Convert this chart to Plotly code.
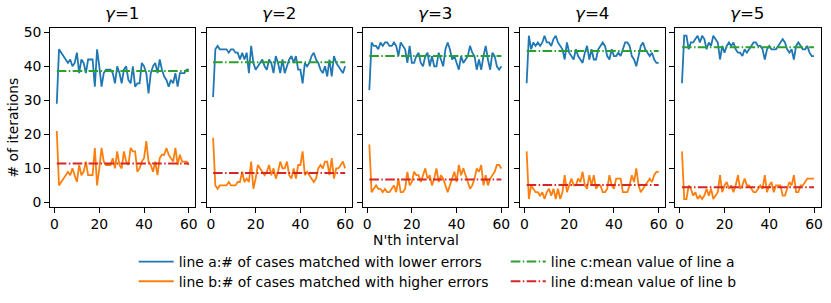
import numpy as np
import plotly.graph_objects as go

# ---------------- data ----------------
intervals = list(range(1, 61))
gammas = [1, 2, 3, 4, 5]

a1 = [29, 45, 44, 43, 42, 41, 42, 40, 41, 44,
      38, 42, 41, 38, 42, 42, 42, 34, 45, 40,
      34, 38, 39, 39, 39, 38, 35, 40, 38, 35,
      39, 40, 36, 35, 40, 34, 35, 35, 41, 40,
      38, 32, 38, 40, 41, 38, 42, 39, 37, 36,
      34, 36, 35, 38, 34, 38, 38, 38, 39, 39]
b1 = [21, 5, 6, 7, 8, 9, 8, 10, 8, 6,
      11, 8, 9, 12, 8, 8, 8, 16, 5, 10,
      16, 12, 11, 11, 11, 13, 10, 15, 11, 10,
      15, 12, 11, 16, 15, 15, 9, 10, 12, 13,
      18, 12, 11, 9, 12, 8, 13, 14, 14, 16,
      14, 13, 12, 16, 11, 14, 12, 12, 12, 11]

a2 = [31, 45, 46, 45, 45, 45, 45, 44, 45, 45,
      44, 44, 42, 44, 42, 44, 38, 46, 41, 39,
      40, 41, 42, 40, 39, 42, 41, 38, 43, 41,
      38, 42, 38, 40, 42, 43, 41, 43, 39, 39,
      35, 41, 40, 41, 43, 44, 42, 41, 39, 38,
      40, 37, 42, 37, 43, 41, 40, 39, 38, 40]
b2 = [19, 5, 4, 5, 5, 5, 5, 6, 5, 5,
      5, 6, 6, 9, 6, 7, 6, 12, 4, 7,
      11, 10, 9, 8, 9, 11, 8, 10, 7, 9,
      12, 10, 10, 12, 8, 7, 10, 7, 11, 11,
      15, 8, 9, 8, 7, 6, 7, 10, 11, 10,
      12, 12, 8, 13, 7, 10, 10, 11, 12, 10]

a3 = [33, 47, 46, 46, 45, 47, 46, 47, 47, 46,
      46, 47, 46, 43, 47, 46, 45, 41, 46, 41,
      41, 43, 44, 41, 40, 43, 44, 40, 43, 40,
      40, 44, 42, 40, 45, 47, 45, 42, 43, 41,
      39, 43, 41, 42, 43, 46, 44, 43, 39, 42,
      39, 43, 46, 42, 39, 44, 43, 40, 39, 40]
b3 = [17, 3, 4, 5, 4, 4, 3, 4, 3, 3,
      4, 5, 3, 7, 3, 3, 4, 9, 5, 6,
      9, 8, 8, 6, 8, 10, 7, 8, 5, 7,
      10, 6, 8, 7, 5, 3, 5, 7, 9, 6,
      11, 8, 10, 8, 6, 4, 5, 7, 10, 9,
      11, 5, 8, 5, 7, 8, 9, 11, 11, 10]

a4 = [35, 49, 45, 47, 46, 47, 46, 47, 49, 47,
      47, 46, 48, 49, 47, 46, 45, 42, 47, 44,
      43, 42, 45, 43, 42, 41, 44, 46, 42, 45,
      42, 42, 45, 46, 47, 46, 43, 42, 45, 43,
      43, 44, 43, 45, 47, 47, 46, 43, 42, 40,
      43, 46, 47, 45, 44, 43, 44, 42, 41, 41]
b4 = [15, 1, 5, 4, 3, 3, 2, 3, 1, 3,
      4, 2, 4, 1, 4, 1, 3, 8, 3, 5,
      7, 5, 5, 7, 6, 9, 5, 4, 8, 5,
      8, 4, 5, 5, 3, 3, 4, 8, 5, 4,
      7, 7, 7, 3, 3, 3, 5, 8, 6, 10,
      5, 3, 4, 5, 6, 7, 6, 8, 9, 9]

a5 = [35, 49, 49, 45, 47, 47, 48, 49, 47, 49,
      48, 45, 47, 46, 49, 48, 47, 42, 46, 44,
      46, 47, 46, 47, 45, 44, 44, 43, 45, 44,
      45, 46, 47, 47, 46, 46, 45, 42, 45, 46,
      45, 45, 45, 46, 47, 48, 47, 45, 44, 45,
      42, 46, 47, 46, 45, 45, 46, 44, 43, 43]
b5 = [15, 1, 1, 5, 4, 2, 3, 1, 2, 1,
      2, 4, 2, 4, 1, 2, 3, 8, 3, 5,
      6, 4, 5, 3, 5, 8, 4, 5, 7, 5,
      5, 4, 3, 3, 4, 5, 4, 8, 3, 5,
      6, 3, 5, 5, 5, 2, 2, 4, 6, 5,
      8, 3, 3, 5, 5, 6, 7, 7, 7, 7]

lines_a = [a1, a2, a3, a4, a5]
lines_b = [b1, b2, b3, b4, b5]

x_ticks = [0, 20, 40, 60]
y_ticks = [0, 10, 20, 30, 40, 50]

# ---------------- layout helpers ----------------
W, H = 831, 303
lefts = [50.3, 207.0, 363.6, 521.3, 677.0]
pw = 145.6
top_px, bot_px = 25.0, 208.3
FONT = "DejaVu Sans"
fs = 13.9

C_A, C_B, C_C, C_D = "#1f77b4", "#ff7f0e", "#2ca02c", "#d62728"
DASHDOT = "9.6px,2.4px,1.5px,2.4px"

fig = go.Figure()
layout = dict(
    width=W, height=H, autosize=False,
    margin=dict(l=0, r=0, t=0, b=0),
    paper_bgcolor="white", plot_bgcolor="white",
    font=dict(family=FONT, size=fs, color="black"),
    showlegend=True,
)

annotations = []
for i, (g, a, b) in enumerate(zip(gammas, lines_a, lines_b)):
    n = i + 1
    xa = "x" if n == 1 else f"x{n}"
    ya = "y" if n == 1 else f"y{n}"
    ma = float(np.mean(a))
    mb = float(np.mean(b))
    first = (n == 1)
    fig.add_trace(go.Scatter(x=intervals, y=a, mode="lines",
                             line=dict(color=C_A, width=1.8),
                             name="line a:# of cases matched with lower errors",
                             showlegend=first, legend="legend",
                             xaxis=xa, yaxis=ya))
    fig.add_trace(go.Scatter(x=intervals, y=b, mode="lines",
                             line=dict(color=C_B, width=1.8),
                             name="line b:# of cases matched with higher errors",
                             showlegend=first, legend="legend3",
                             xaxis=xa, yaxis=ya))
    fig.add_trace(go.Scatter(x=[intervals[0], intervals[-1]], y=[ma, ma], mode="lines",
                             line=dict(color=C_C, width=2, dash=DASHDOT),
                             name="line c:mean value of line a",
                             showlegend=first, legend="legend2",
                             xaxis=xa, yaxis=ya))
    fig.add_trace(go.Scatter(x=[intervals[0], intervals[-1]], y=[mb, mb], mode="lines",
                             line=dict(color=C_D, width=2, dash=DASHDOT),
                             name="line d:mean value of line b",
                             showlegend=first, legend="legend4",
                             xaxis=xa, yaxis=ya))

    l = lefts[i]
    layout[f"xaxis{n}"] = dict(
        domain=[l / W, (l + pw) / W], range=[-1.95, 62.95], anchor=ya,
        tickvals=x_ticks, ticks="outside", ticklen=5, tickwidth=1, tickcolor="black",
        ticklabelstandoff=-1,
        showline=True, mirror=True, linecolor="black", linewidth=1,
        showgrid=False, zeroline=False, tickfont=dict(family=FONT, size=fs, color="black"),
    )
    layout[f"yaxis{n}"] = dict(
        domain=[1 - bot_px / H, 1 - top_px / H], range=[-1.4, 51.4], anchor=xa,
        tickvals=y_ticks, ticks="outside", ticklen=5, tickwidth=1, tickcolor="black",
        showticklabels=first,
        showline=True, mirror=True, linecolor="black", linewidth=1,
        showgrid=False, zeroline=False, tickfont=dict(family=FONT, size=fs, color="black"),
    )
    annotations.append(dict(
        text=f"<i>γ</i>={g}", x=(l + pw / 2) / W, y=1 - top_px / H,
        xref="paper", yref="paper", xanchor="center", yanchor="bottom",
        yshift=3, showarrow=False, font=dict(family=FONT, size=16.7, color="black"),
    ))

annotations.append(dict(
    text="N'th interval", x=417 / W, y=1 - 242 / H, xref="paper", yref="paper",
    xanchor="center", yanchor="middle", showarrow=False,
    font=dict(family=FONT, size=fs, color="black"),
))
annotations.append(dict(
    text="# of iterations", x=14 / W, y=1 - 127 / H, xref="paper", yref="paper",
    xanchor="center", yanchor="middle", textangle=-90, showarrow=False,
    font=dict(family=FONT, size=fs, color="black"),
))
layout["annotations"] = annotations

legend_common = dict(
    orientation="v", xanchor="left", yanchor="top",
    bgcolor="rgba(0,0,0,0)", borderwidth=0, itemwidth=35, tracegroupgap=0,
    font=dict(family=FONT, size=fs, color="black"), traceorder="normal",
)
col1_x, col2_x = 134, 507
row1_top, row2_top = 248, 268
layout["legend"] = dict(legend_common, x=col1_x / W, y=1 - row1_top / H)
layout["legend2"] = dict(legend_common, x=col2_x / W, y=1 - row1_top / H)
layout["legend3"] = dict(legend_common, x=col1_x / W, y=1 - row2_top / H)
layout["legend4"] = dict(legend_common, x=col2_x / W, y=1 - row2_top / H)

fig.update_layout(**layout)
fig.write_html("out.html",
               config={"displayModeBar": False},
               post_script="document.body.style.margin='0';document.body.style.padding='0';")
